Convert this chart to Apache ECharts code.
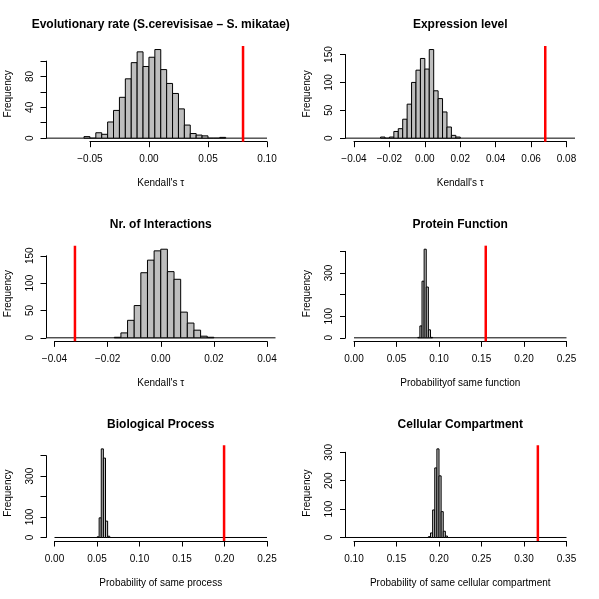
<!DOCTYPE html>
<html>
<head>
<meta charset="utf-8">
<script src="https://cdn.jsdelivr.net/npm/echarts@6/dist/echarts.min.js"></script>
<style>
html, body { margin: 0; padding: 0; background: #fff; }
#chart { width: 599px; height: 599px; }
</style>
</head>
<body>
<div id="chart"></div>
<script>
const FONT = 'Liberation Sans, Arial, Helvetica, sans-serif'

// Evolutionary rate
const evoXlim = [-0.08, 0.10]
const evoXTicks = [-0.05, 0, 0.05, 0.10]
const evoYTicks = [0, 20, 40, 60, 80, 100]
const evoYLabels = [0, 40, 80]
const evoBreaks = [-0.09, 0.10]
const evoBinStart = -0.055
const evoBinWidth = 0.005
const evoCounts = [2, 0, 7, 5, 21, 36, 53, 77, 98, 112, 93, 105, 115, 89, 71, 58, 38, 17, 6, 4, 3, 0, 0, 1]
const evoObserved = 0.0797

// Expression level
const exprXlim = [-0.04, 0.08]
const exprXTicks = [-0.04, -0.02, 0, 0.02, 0.04, 0.06, 0.08]
const exprYTicks = [0, 50, 100, 150]
const exprYLabels = [0, 50, 100, 150]
const exprBreaks = [-0.05, 0.09]
const exprBinStart = -0.025
const exprBinWidth = 0.0025
const exprCounts = [2, 0, 2, 12, 17, 34, 61, 100, 122, 143, 124, 159, 85, 71, 47, 20, 5, 2]
const exprObserved = 0.068

// Nr. of interactions
const intXlim = [-0.04, 0.04]
const intXTicks = [-0.04, -0.02, 0, 0.02, 0.04]
const intYTicks = [0, 50, 100, 150]
const intYLabels = [0, 50, 100, 150]
const intBreaks = [-0.05, 0.05]
const intBinStart = -0.0175
const intBinWidth = 0.0025
const intCounts = [1, 9, 32, 59, 119, 142, 159, 162, 121, 107, 47, 27, 14, 3, 1]
const intObserved = -0.0323

// Protein function
const funXlim = [0, 0.25]
const funXTicks = [0, 0.05, 0.10, 0.15, 0.20, 0.25]
const funYTicks = [0, 100, 200, 300, 400]
const funYLabels = [0, 100, 300]
const funBreaks = [0, 0.25]
const funBinStart = 0.075
const funBinWidth = 0.0025
const funCounts = [2, 55, 262, 410, 235, 37, 2]
const funObserved = 0.155

// Biological process
const procXlim = [0, 0.25]
const procXTicks = [0, 0.05, 0.10, 0.15, 0.20, 0.25]
const procYTicks = [0, 100, 200, 300, 400]
const procYLabels = [0, 100, 300]
const procBreaks = [0, 0.25]
const procBinStart = 0.05
const procBinWidth = 0.0025
const procCounts = [3, 96, 433, 388, 80, 6]
const procObserved = 0.1995

// Cellular compartment
const compXlim = [0.10, 0.35]
const compXTicks = [0.10, 0.15, 0.20, 0.25, 0.30, 0.35]
const compYTicks = [0, 100, 200, 300]
const compYLabels = [0, 100, 200, 300]
const compBreaks = [0.05, 0.35]
const compBinStart = 0.1875
const compBinWidth = 0.0025
const compCounts = [3, 16, 97, 245, 312, 217, 91, 22, 5]
const compObserved = 0.3163

const panels = [
  { title: 'Evolutionary rate (S.cerevisisae \u2013 S. mikatae)', xName: "Kendall's \u03c4", xlim: evoXlim, xTicks: evoXTicks, yTicks: evoYTicks, yLabels: evoYLabels, breaks: evoBreaks, binStart: evoBinStart, binWidth: evoBinWidth, counts: evoCounts, observed: evoObserved },
  { title: 'Expression level', xName: "Kendall's \u03c4", xlim: exprXlim, xTicks: exprXTicks, yTicks: exprYTicks, yLabels: exprYLabels, breaks: exprBreaks, binStart: exprBinStart, binWidth: exprBinWidth, counts: exprCounts, observed: exprObserved },
  { title: 'Nr. of Interactions', xName: "Kendall's \u03c4", xlim: intXlim, xTicks: intXTicks, yTicks: intYTicks, yLabels: intYLabels, breaks: intBreaks, binStart: intBinStart, binWidth: intBinWidth, counts: intCounts, observed: intObserved },
  { title: 'Protein Function', xName: 'Probabilityof same function', xlim: funXlim, xTicks: funXTicks, yTicks: funYTicks, yLabels: funYLabels, breaks: funBreaks, binStart: funBinStart, binWidth: funBinWidth, counts: funCounts, observed: funObserved },
  { title: 'Biological Process', xName: 'Probability of same process', xlim: procXlim, xTicks: procXTicks, yTicks: procYTicks, yLabels: procYLabels, breaks: procBreaks, binStart: procBinStart, binWidth: procBinWidth, counts: procCounts, observed: procObserved },
  { title: 'Cellular Compartment', xName: 'Probability of same cellular compartment', xlim: compXlim, xTicks: compXTicks, yTicks: compYTicks, yLabels: compYLabels, breaks: compBreaks, binStart: compBinStart, binWidth: compBinWidth, counts: compCounts, observed: compObserved },
]

// R style: 3x2 layout, plot region inside each figure, axes extended by 4%
const FIG_W = 599 / 2
const FIG_H = 599 / 3

function plotBox(i) {
  const col = i % 2
  const row = Math.floor(i / 2)
  return { L: col * FIG_W + 46, R: col * FIG_W + 275.5, T: row * FIG_H + 46, B: row * FIG_H + 141.7 }
}

function extend(lim) {
  const d = (lim[1] - lim[0]) * 0.04
  return [lim[0] - d, lim[1] + d]
}

function fmtX(v) {
  if (Math.abs(v) < 1e-9) return '0.00'
  return v.toFixed(2).replace('-', '\u2212')
}

function histRender(usrX) {
  return function (params, api) {
    const x0 = Math.max(api.value(0), usrX[0])
    const x1 = Math.min(api.value(1), usrX[1])
    const h = api.value(2)
    const a = api.coord([x0, 0])
    const b = api.coord([x1, h])
    if (h === 0) {
      return { type: 'line', shape: { x1: a[0], y1: a[1], x2: b[0], y2: a[1] }, style: { stroke: '#000', lineWidth: 1 } }
    }
    return {
      type: 'rect',
      shape: { x: a[0], y: b[1], width: b[0] - a[0], height: a[1] - b[1] },
      style: { fill: '#bebebe', stroke: '#000', lineWidth: 1 },
    }
  }
}

const titles = []
const grids = []
const xAxes = []
const yAxes = []
const series = []

panels.forEach((p, i) => {
  const box = plotBox(i)
  const usrX = extend(p.xlim)
  const usrY = extend([0, Math.max(...p.counts)])
  const px = (v) => box.L + (v - usrX[0]) / (usrX[1] - usrX[0]) * (box.R - box.L)
  const py = (v) => box.B - (v - usrY[0]) / (usrY[1] - usrY[0]) * (box.B - box.T)

  const xMin = p.xTicks[0], xMax = p.xTicks[p.xTicks.length - 1]
  const yMin = p.yTicks[0], yMax = p.yTicks[p.yTicks.length - 1]
  const gLeft = px(xMin), gRight = px(xMax)
  const gTop = py(yMax), gBottom = py(yMin)

  grids.push({ left: gLeft, top: gTop, width: gRight - gLeft, height: gBottom - gTop, outerBoundsMode: 'none' })

  // centre axis titles on the plot region, like R does
  const xShift = (box.L + box.R) / 2 - (gLeft + gRight) / 2
  const yShift = (gTop + gBottom) / 2 - (box.T + box.B) / 2
  const xPad = xShift < 0 ? [0, -2 * xShift, 0, 0] : [0, 0, 0, 2 * xShift]
  const yPad = yShift > 0 ? [0, 0, 0, 2 * yShift] : [0, -2 * yShift, 0, 0]

  titles.push({
    text: p.title,
    left: (box.L + box.R) / 2,
    top: Math.floor(i / 2) * FIG_H + 19,
    textAlign: 'center',
    padding: 0,
    textStyle: { fontSize: 12, fontWeight: 'bold', color: '#000', fontFamily: FONT },
  })

  xAxes.push({
    gridIndex: i,
    type: 'value',
    min: xMin,
    max: xMax,
    interval: Number((p.xTicks[1] - p.xTicks[0]).toFixed(6)),
    offset: box.B - gBottom,
    axisLine: { onZero: false, lineStyle: { color: '#000', width: 1 } },
    axisTick: { length: 5.5, lineStyle: { color: '#000', width: 1 } },
    axisLabel: { margin: 13, fontSize: 10, color: '#000', fontFamily: FONT, formatter: fmtX },
    splitLine: { show: false },
    name: p.xName,
    nameLocation: 'middle',
    nameGap: 37,
    nameTextStyle: { fontSize: 10, color: '#000', fontFamily: FONT, padding: xPad },
  })

  yAxes.push({
    gridIndex: i,
    type: 'value',
    min: yMin,
    max: yMax,
    interval: p.yTicks[1] - p.yTicks[0],
    offset: gLeft - box.L,
    axisLine: { show: true, onZero: false, lineStyle: { color: '#000', width: 1 } },
    axisTick: { show: true, length: 5.5, lineStyle: { color: '#000', width: 1 } },
    axisLabel: {
      margin: 11, fontSize: 10, color: '#000', fontFamily: FONT, rotate: 90,
      formatter: (v) => (p.yLabels.includes(v) ? String(v) : ''),
    },
    splitLine: { show: false },
    name: 'Frequency',
    nameLocation: 'middle',
    nameRotate: 90,
    nameGap: 33,
    nameTextStyle: { fontSize: 10, color: '#000', fontFamily: FONT, padding: yPad },
  })

  const bins = [[p.breaks[0], p.breaks[1], 0]].concat(
    p.counts.map((c, k) => [p.binStart + k * p.binWidth, p.binStart + (k + 1) * p.binWidth, c])
  )
  series.push({
    type: 'custom',
    xAxisIndex: i,
    yAxisIndex: i,
    clip: false,
    silent: true,
    renderItem: histRender(usrX),
    encode: { x: [0, 1], y: 2 },
    data: bins,
  })
  series.push({
    type: 'line',
    xAxisIndex: i,
    yAxisIndex: i,
    clip: false,
    silent: true,
    symbol: 'none',
    lineStyle: { color: '#ff0000', width: 2.5 },
    data: [[p.observed, usrY[0]], [p.observed, usrY[1]]],
  })
})

const myChart = echarts.init(document.getElementById('chart'), null, { renderer: 'canvas' })
myChart.setOption({
  animation: false,
  backgroundColor: '#fff',
  title: titles,
  grid: grids,
  xAxis: xAxes,
  yAxis: yAxes,
  series: series,
})
</script>
</body>
</html>
